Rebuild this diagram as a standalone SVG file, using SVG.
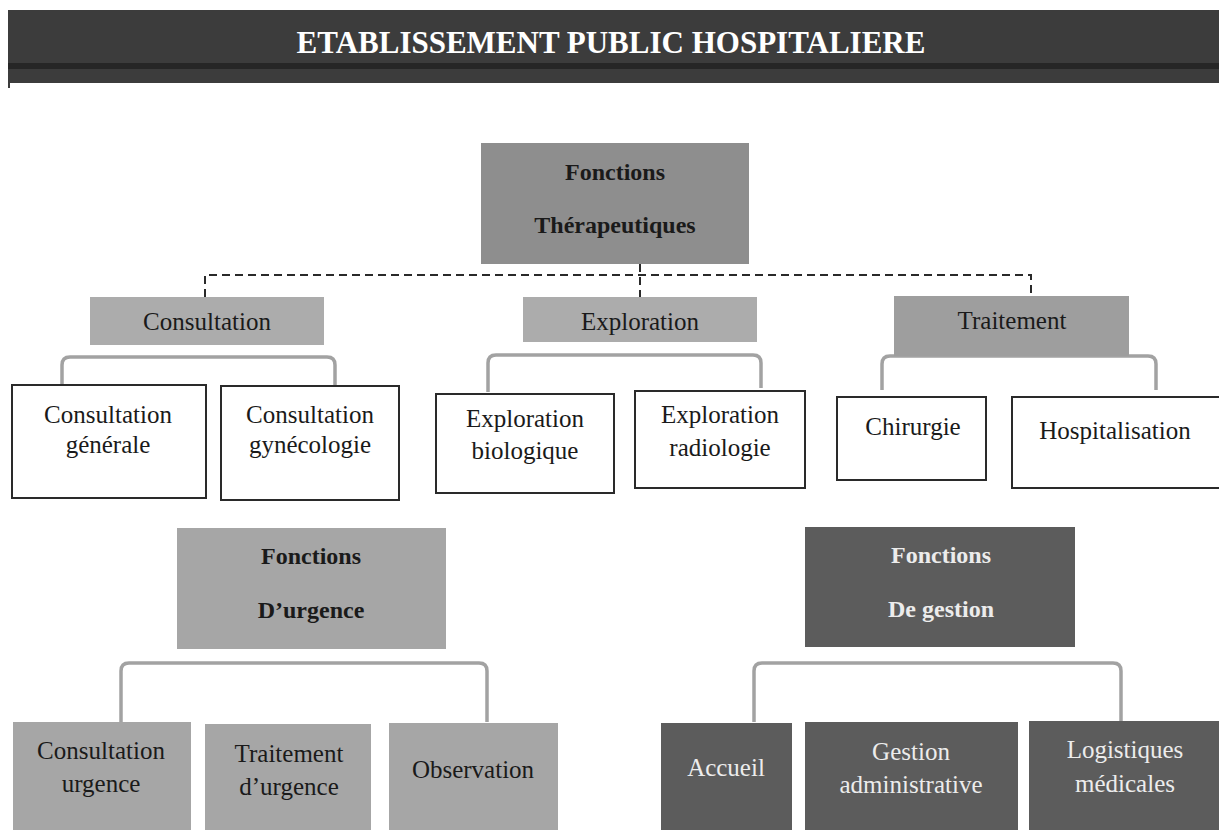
<svg xmlns="http://www.w3.org/2000/svg" width="1219" height="830" viewBox="0 0 1219 830">
<style>
text{font-family:"Liberation Serif","Times New Roman",serif;text-anchor:middle;fill:#1a1a1a;font-size:25px}
.b{font-weight:bold}
.w{fill:#ececec}
.white{fill:#ffffff;stroke:#2a2a2a;stroke-width:2}
.dash{fill:none;stroke:#2a2a2a;stroke-width:2;stroke-dasharray:8 5}
.br{fill:none;stroke:#a2a2a2;stroke-width:3.5}
</style>
<rect width="1219" height="830" fill="#ffffff"/>
<g id="header">
<rect x="8" y="10" width="1211" height="73" fill="#3c3c3c"/>
<rect x="8" y="63" width="1211" height="6" fill="#262626"/>
<line x1="9" y1="80" x2="9" y2="88" stroke="#3c3c3c" stroke-width="2"/>
<text x="611" y="53" class="b" style="font-size:31px;fill:#ffffff">ETABLISSEMENT PUBLIC HOSPITALIERE</text>
</g>
<g id="connectors">
<path class="dash" d="M640,264 V297 M205,297 V275 H1031 V297"/>
<path class="br" d="M62,392 V365 Q62,357 70,357 H327 Q335,357 335,365 V391"/>
<path class="br" d="M488,392 V363 Q488,355 496,355 H753 Q761,355 761,363 V388"/>
<path class="br" d="M882,390 V364 Q882,356 890,356 H1148 Q1156,356 1156,364 V390"/>
<path class="br" d="M121,722 V671 Q121,663 129,663 H479 Q487,663 487,671 V722"/>
<path class="br" d="M754,722 V671 Q754,663 762,663 H1113 Q1121,663 1121,671 V722"/>
</g>
<g id="therapeutiques">
<rect x="481" y="143" width="268" height="121" fill="#8e8e8e"/>
<text x="615" y="180" class="b" style="font-size:24px">Fonctions</text>
<text x="615" y="233" class="b" style="font-size:24px">Thérapeutiques</text>
</g>
<g id="consultation">
<rect x="90" y="297" width="234" height="48" fill="#acacac"/>
<text x="207" y="330">Consultation</text>
</g>
<g id="exploration">
<rect x="523" y="297" width="234" height="45" fill="#acacac"/>
<text x="640" y="330">Exploration</text>
</g>
<g id="traitement">
<rect x="894" y="296" width="235" height="60" fill="#9e9e9e"/>
<text x="1012" y="329">Traitement</text>
</g>
<g id="consultation-generale">
<rect class="white" x="12" y="385" width="194" height="113"/>
<text x="108" y="423">Consultation</text>
<text x="108" y="453">générale</text>
</g>
<g id="consultation-gynecologie">
<rect class="white" x="221" y="386" width="178" height="114"/>
<text x="310" y="423">Consultation</text>
<text x="310" y="453">gynécologie</text>
</g>
<g id="exploration-biologique">
<rect class="white" x="436" y="394" width="178" height="99"/>
<text x="525" y="427">Exploration</text>
<text x="525" y="459">biologique</text>
</g>
<g id="exploration-radiologie">
<rect class="white" x="635" y="391" width="170" height="97"/>
<text x="720" y="423">Exploration</text>
<text x="720" y="456">radiologie</text>
</g>
<g id="chirurgie">
<rect class="white" x="837" y="397" width="149" height="83"/>
<text x="913" y="435">Chirurgie</text>
</g>
<g id="hospitalisation">
<rect class="white" x="1012" y="397" width="210" height="91"/>
<text x="1115" y="439">Hospitalisation</text>
</g>
<g id="urgence">
<rect x="177" y="528" width="269" height="121" fill="#a6a6a6"/>
<text x="311" y="564" class="b" style="font-size:24px">Fonctions</text>
<text x="311" y="618" class="b" style="font-size:24px">D’urgence</text>
</g>
<g id="consultation-urgence">
<rect x="13" y="722" width="178" height="108" fill="#a6a6a6"/>
<text x="101" y="759">Consultation</text>
<text x="101" y="792">urgence</text>
</g>
<g id="traitement-urgence">
<rect x="205" y="724" width="166" height="106" fill="#a6a6a6"/>
<text x="289" y="762">Traitement</text>
<text x="289" y="795">d’urgence</text>
</g>
<g id="observation">
<rect x="389" y="723" width="169" height="107" fill="#a6a6a6"/>
<text x="473" y="778">Observation</text>
</g>
<g id="gestion">
<rect x="805" y="527" width="270" height="120" fill="#5c5c5c"/>
<text x="941" y="563" class="b w" style="font-size:24px">Fonctions</text>
<text x="941" y="617" class="b w" style="font-size:24px">De gestion</text>
</g>
<g id="accueil">
<rect x="661" y="723" width="131" height="107" fill="#5c5c5c"/>
<text x="726" y="776" class="w">Accueil</text>
</g>
<g id="gestion-administrative">
<rect x="805" y="722" width="213" height="108" fill="#5c5c5c"/>
<text x="911" y="760" class="w">Gestion</text>
<text x="911" y="793" class="w">administrative</text>
</g>
<g id="logistiques-medicales">
<rect x="1029" y="721" width="190" height="109" fill="#5c5c5c"/>
<text x="1125" y="758" class="w">Logistiques</text>
<text x="1125" y="792" class="w">médicales</text>
</g>
</svg>
